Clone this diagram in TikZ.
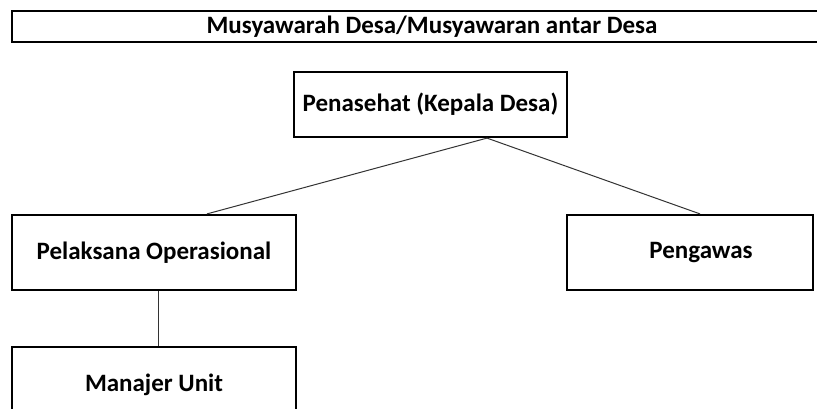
\documentclass[tikz,border=0pt]{standalone}
\usepackage{fontspec}
\setmainfont{Carlito}
\usepackage{tikz}
\usetikzlibrary{positioning}

\begin{document}
\begin{tikzpicture}[
  x=1pt, y=-1pt,
  unitbox/.style={draw, line width=2.2pt, align=center, inner sep=0pt,
               font=\fontsize{25}{29}\selectfont\bfseries},
  link/.style={line width=1pt, black!80}
]
  \useasboundingbox (0,0) rectangle (817,409);
  \clip (0,0) rectangle (817,409);

  \node[unitbox, minimum width=840pt, minimum height=31pt] (musdes) at (432,26.5)
    {Musyawarah Desa/Musyawaran antar Desa};

  \node[unitbox, minimum width=273pt, minimum height=65pt] (penasehat) at (430.5,104.5)
    {Penasehat (Kepala Desa)};

  \node[unitbox, minimum width=284pt, minimum height=75pt] (pelaksana) at (154,252.5)
    {Pelaksana Operasional};

  \node[unitbox, minimum width=246pt, minimum height=75pt] (pengawas) at (690,252.5)
    {\hspace*{22pt}Pengawas};

  \node[unitbox, minimum width=284pt, minimum height=75pt, below=55pt of pelaksana] (manajer)
    {Manajer Unit};

  \draw[link] ([xshift=56.5pt]penasehat.south) -- ([xshift=53pt]pelaksana.north);
  \draw[link] ([xshift=56.5pt]penasehat.south) -- ([xshift=10pt]pengawas.north);
  \draw[link] ([xshift=4pt]pelaksana.south) -- ([xshift=4pt]manajer.north);
\end{tikzpicture}
\end{document}
